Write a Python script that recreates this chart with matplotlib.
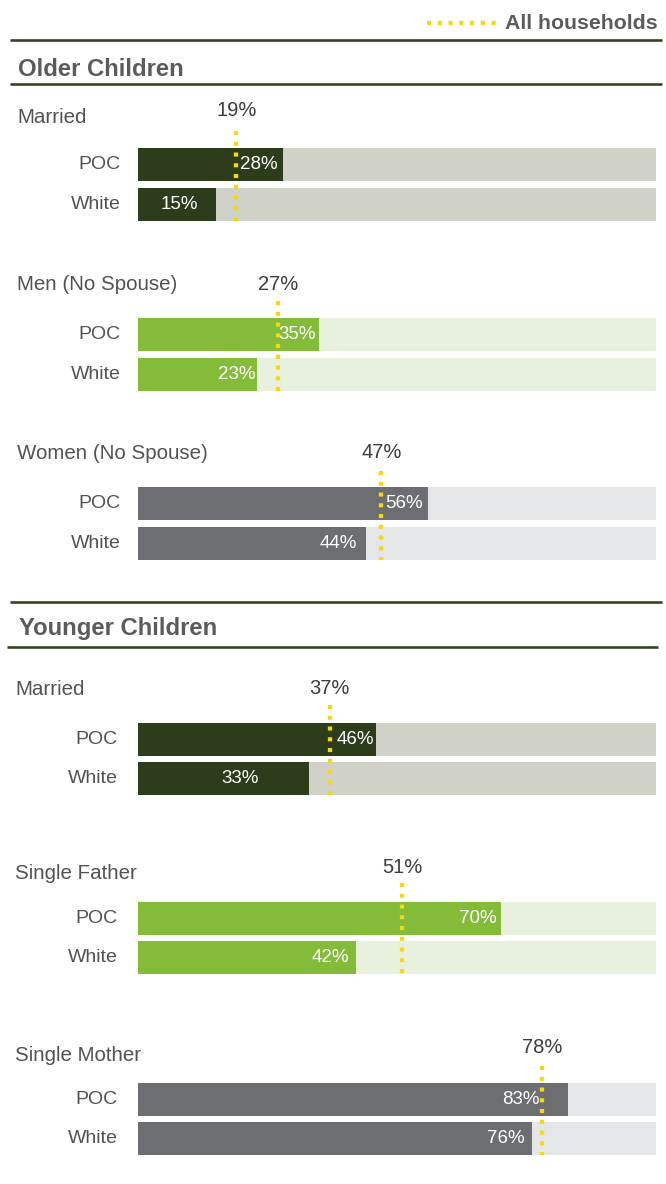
import matplotlib
matplotlib.use("Agg")
import matplotlib.pyplot as plt

# ---- data ----
sections = ["Older Children", "Younger Children"]
groups = ["Married", "Men (No Spouse)", "Women (No Spouse)",
          "Married", "Single Father", "Single Mother"]
races = ["POC", "White"]
poc = [28, 35, 56, 46, 70, 83]
white = [15, 23, 44, 33, 42, 76]
all_households = [19, 27, 47, 37, 51, 78]

# ---- styling ----
bar_colors = ["#2d3c1a", "#84bb39", "#6d6e71"] * 2
track_colors = ["#d0d1c7", "#e8f1dd", "#e5e6e7"] * 2
yellow = "#f4d90f"
rule_color = "#33421f"
head_gray = "#5b5b5b"
label_gray = "#525252"
avg_gray = "#3c3c3c"

# ---- layout (pixels on a 666 x 1184 canvas) ----
W, H = 666, 1184
x0, x1 = 138, 656                      # 0% .. 100%
poc_top = [148, 318, 487, 723.3, 902.3, 1083]
white_top = [188, 358, 527, 762, 941, 1122]
bar_h = 32.7
head_base = [123, 290, 459, 695, 879, 1061]
avg_base = [116, 290, 458, 694, 873, 1053]
dot_top = [130.7, 300.7, 470.7, 705, 883, 1066]
head_x = [17, 17, 17, 15, 15, 15]
cat_right = [121, 121, 121, 117.5, 117.5, 117.5]
poc_pad = [5, 3, 5, 2, 4, 28]         # gap between bar end and its label
white_pad = [18, 2, 9, 50, 6, 7]
section_base = [76, 635]
section_x = [18, 19]
rules = [(10, 662, 40), (10, 662, 84.3), (10, 662, 601.7), (7, 658, 646.7)]

plt.rcParams["font.family"] = ["Liberation Sans", "DejaVu Sans"]
fig = plt.figure(figsize=(W / 100, H / 100), dpi=100)

# full-canvas layer for titles, rules and labels
lay = fig.add_axes([0, 0, 1, 1])
lay.set_xlim(0, W)
lay.set_ylim(H, 0)
lay.axis("off")

# bar layer: x in percent
ax = fig.add_axes([x0 / W, 0, (x1 - x0) / W, 1])
ax.set_xlim(0, 100)
ax.set_ylim(H, 0)
ax.axis("off")
ax.patch.set_alpha(0)

px2pt = 72 / 100
dot_lw = 4.3 * px2pt
dot_style = (0, (0.95, 1.55))

# legend
lay.plot([427, 498], [22.7, 22.7], color=yellow, lw=dot_lw,
         linestyle=dot_style, solid_capstyle="butt", dash_capstyle="butt")
lay.text(658, 29.3, "All households", ha="right", va="baseline",
         fontsize=15.3, fontweight="bold", color=head_gray)

for xa, xb, y in rules:
    lay.plot([xa, xb], [y, y], color=rule_color, lw=2.6 * px2pt,
             solid_capstyle="butt")

for name, xs, yb in zip(sections, section_x, section_base):
    lay.text(xs, yb, name, ha="left", va="baseline", fontsize=17.2,
             fontweight="bold", color=head_gray)

for i, g in enumerate(groups):
    yc_p = poc_top[i] + bar_h / 2
    yc_w = white_top[i] + bar_h / 2

    # group heading and race labels
    lay.text(head_x[i], head_base[i], g, ha="left", va="baseline",
             fontsize=14.8, color=label_gray)
    for race, yc in zip(races, [yc_p, yc_w]):
        lay.text(cat_right[i], yc, race, ha="right", va="center",
                 fontsize=14, color=label_gray)

    # track + value bars
    ax.barh([yc_p, yc_w], [100, 100], height=bar_h, color=track_colors[i],
            linewidth=0)
    ax.barh([yc_p, yc_w], [poc[i], white[i]], height=bar_h,
            color=bar_colors[i], linewidth=0)

    # average marker
    ax.vlines(all_households[i], dot_top[i], white_top[i] + bar_h,
              colors=yellow, linewidth=dot_lw, linestyles=[dot_style])
    ax.text(all_households[i], avg_base[i], f"{all_households[i]}%",
            ha="center", va="baseline", fontsize=14.5, color=avg_gray)

    # value labels
    for v, yc, pad in [(poc[i], yc_p, poc_pad[i]), (white[i], yc_w, white_pad[i])]:
        ax.annotate(f"{v}%", xy=(v, yc), xytext=(-pad * px2pt, 0),
                    textcoords="offset points", ha="right", va="center",
                    fontsize=13.5, color="white")

fig.savefig("out.png", dpi=100)
